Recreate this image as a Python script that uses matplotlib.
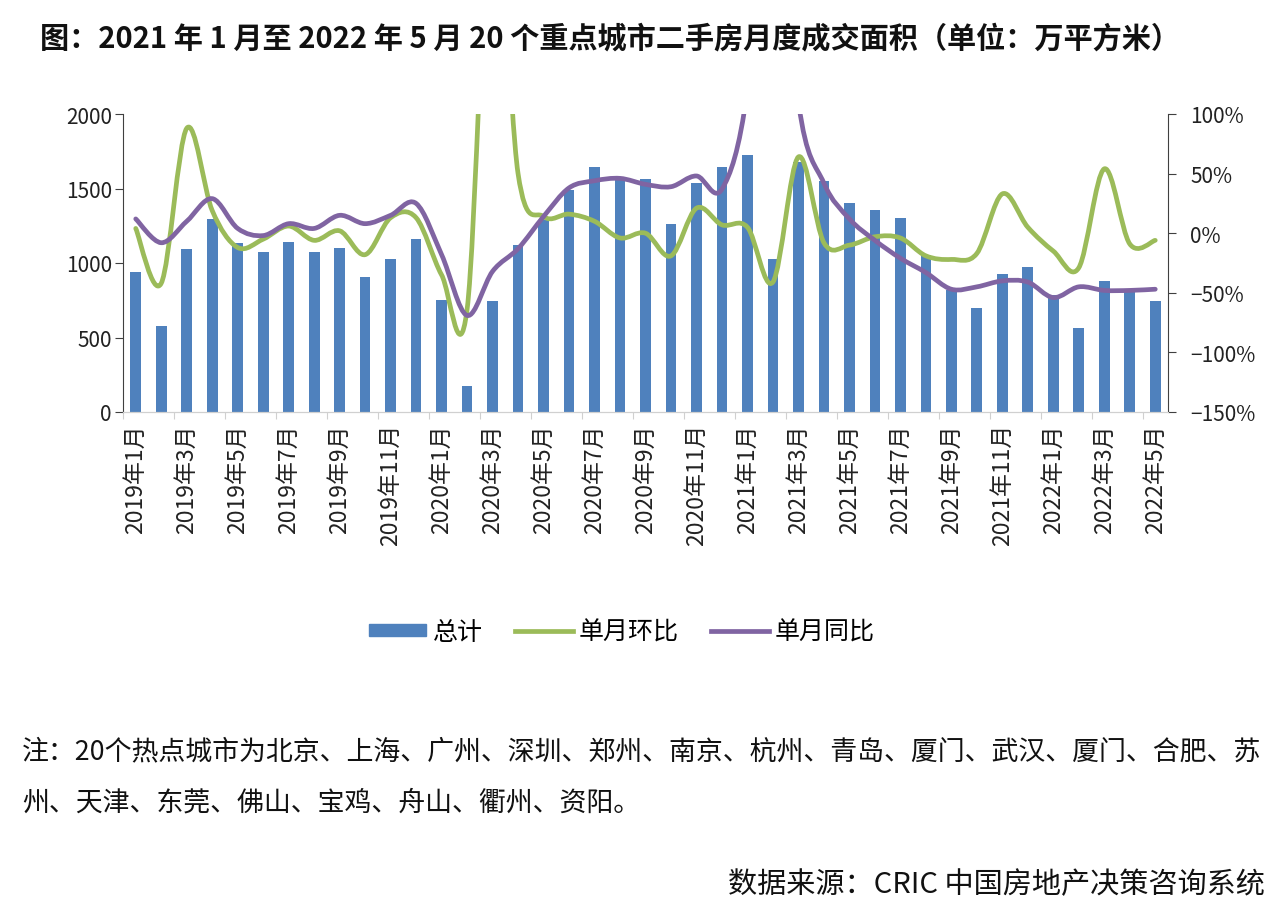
import numpy as np
import matplotlib
matplotlib.use("Agg")
import matplotlib.pyplot as plt
from matplotlib.path import Path
from matplotlib.patches import PathPatch, Patch
from matplotlib.lines import Line2D

plt.rcParams['font.family'] = ['Noto Sans CJK SC', 'DejaVu Sans']
plt.rcParams['axes.unicode_minus'] = True

# 月份
months = [f"{y}年{m}月" for y in (2019, 2020, 2021) for m in range(1, 13)] + \
         [f"2022年{m}月" for m in range(1, 6)]

# 总计（万平方米）
total = [941, 578, 1091, 1292, 1131, 1077, 1144, 1077, 1104, 903, 1024, 1158,
         755, 177, 744, 1120, 1288, 1489, 1642, 1568, 1561, 1265, 1534, 1642,
         1722, 1024, 1680, 1550, 1400, 1359, 1305, 1052, 817, 701, 929, 970,
         784, 567, 876, 806, 744]

# 单月环比（%）
mom = [4, -42, 88, 19, -12, -5, 6, -6, 2, -18, 13, 13,
       -35, -64, 300, 50, 14, 16, 10, -4, 0, -19, 21, 7,
       5, -41, 64, -8, -10, -3, -4, -19, -22, -17, 33, 5,
       -15, -29, 54, -9, -6]

# 单月同比（%）
yoy = [12, -8, 10, 29, 4, -2, 8, 4, 15, 8, 15, 25,
       -18, -69, -32, -13, 14, 38, 44, 46, 41, 39, 48, 37,
       120, 350, 110, 42, 12, -6, -21, -33, -47, -45, -40, -41,
       -54, -45, -48, -48, -47]

blue = '#4F81BD'
green = '#9BBB59'
purple = '#8064A2'


def smooth_path(xs, ys):
    # Excel 风格的平滑线（三次贝塞尔）
    pts = np.column_stack([xs, ys]).astype(float)
    n = len(pts)
    verts = [pts[0]]
    codes = [Path.MOVETO]
    for i in range(n - 1):
        p0 = pts[i - 1] if i > 0 else pts[i]
        p1 = pts[i]
        p2 = pts[i + 1]
        p3 = pts[i + 2] if i + 2 < n else pts[i + 1]
        c1 = p1 + (p2 - p0) / 6
        c2 = p2 - (p3 - p1) / 6
        verts += [c1, c2, p2]
        codes += [Path.CURVE4] * 3
    return Path(verts, codes)


fig = plt.figure(figsize=(12.8, 9.2), dpi=100)
ax = fig.add_axes([123/1280, 1 - 413/920, (1168 - 123)/1280, (413 - 115)/920])
ax2 = ax.twinx()

x = np.arange(len(months))
ax.bar(x, total, width=0.42, color=blue, zorder=2)
ax.set_xlim(-0.5, len(months) - 0.5)
ax.set_ylim(0, 2000)
ax.set_yticks([0, 500, 1000, 1500, 2000])
ax.tick_params(axis='y', labelsize=15, length=6, pad=2, color='#404040', labelcolor='#222222')

ax2.set_ylim(-150, 100)
ax2.set_yticks([-150, -100, -50, 0, 50, 100])
ax2.set_yticklabels([f"{v}%".replace('-', '−') for v in [-150, -100, -50, 0, 50, 100]])
ax2.tick_params(axis='y', labelsize=15, length=6, pad=10, color='#404040', labelcolor='#222222')

for vals, c in [(mom, green), (yoy, purple)]:
    pp = PathPatch(smooth_path(x, vals), facecolor='none', edgecolor=c,
                   lw=3.4, capstyle='round', joinstyle='round', zorder=3)
    ax2.add_patch(pp)

# x 轴
ax.set_xticks(np.arange(-0.5, len(months), 2))
ax.set_xticklabels([])
ax.tick_params(axis='x', length=5, color='#d0d0d0')
ax.set_xticks(x[::2], minor=True)
ax.set_xticklabels(months[::2], minor=True, rotation=90, fontsize=16.5, color='#222222')
ax.tick_params(axis='x', which='minor', length=0, pad=8)
ax2.tick_params(axis='x', which='both', length=0)

for a in (ax, ax2):
    a.spines['top'].set_visible(False)
    a.spines['bottom'].set_color('#d0d0d0')
ax.spines['left'].set_color('#404040')
ax.spines['right'].set_visible(False)
ax2.spines['left'].set_visible(False)
ax2.spines['right'].set_color('#404040')

handles = [Patch(facecolor=blue, edgecolor=blue),
           Line2D([], [], color=green, lw=3.4),
           Line2D([], [], color=purple, lw=3.4)]
fig.legend(handles, ['总计', '单月环比', '单月同比'], loc='center',
           bbox_to_anchor=(622/1280, 1 - 633/920), ncol=3, frameon=False,
           fontsize=18, handlelength=2.3, handleheight=0.4, columnspacing=1.3,
           handletextpad=0.25)

fig.text(40/1280, 1 - 38/920, '图：2021 年 1 月至 2022 年 5 月 20 个重点城市二手房月度成交面积（单位：万平方米）',
         fontsize=21, fontweight='bold', va='center', ha='left', color='#111111')
fig.text(22/1280, 1 - 752/920, '注：20个热点城市为北京、上海、广州、深圳、郑州、南京、杭州、青岛、厦门、武汉、厦门、合肥、苏',
         fontsize=19.4, va='center', ha='left', color='#111111')
fig.text(22/1280, 1 - 803/920, '州、天津、东莞、佛山、宝鸡、舟山、衢州、资阳。',
         fontsize=19.4, va='center', ha='left', color='#111111')
fig.text(1265/1280, 1 - 885/920, '数据来源：CRIC 中国房地产决策咨询系统',
         fontsize=21, va='center', ha='right', color='#111111')

fig.savefig('out.png', dpi=100)
